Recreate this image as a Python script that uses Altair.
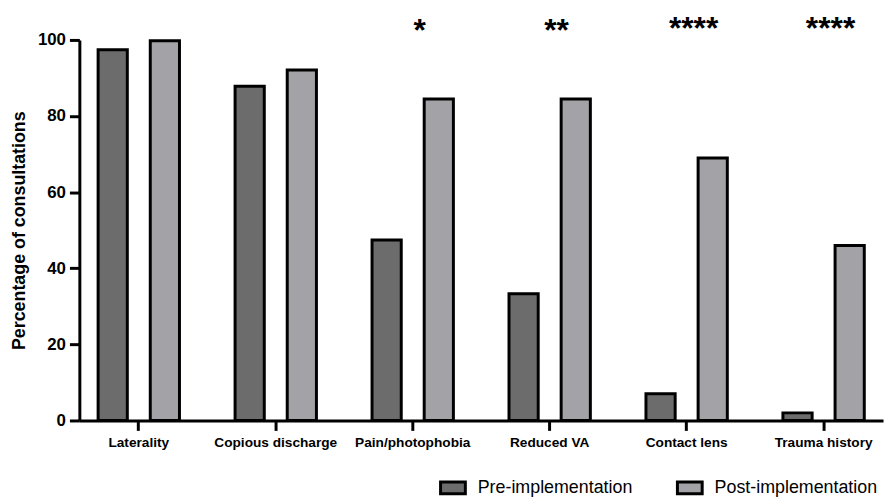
import altair as alt
import pandas as pd

categories = ["Laterality", "Copious discharge", "Pain/photophobia",
              "Reduced VA", "Contact lens", "Trauma history"]
groups = ["Pre-implementation", "Post-implementation"]
pre_values = [97.4, 87.8, 47.4, 33.3, 7.0, 2.0]
post_values = [99.8, 92.1, 84.5, 84.5, 69.0, 46.0]
sig_categories = ["Pain/photophobia", "Reduced VA", "Contact lens", "Trauma history"]
sig_labels = ["*", "**", "****", "****"]
sig_y = [99.6, 99.6, 100.2, 100.2]
y_ticks = [0, 20, 40, 60, 80, 100]
group_colors = ["#6c6c6c", "#a3a2a6"]

rows = []
for c, a, b in zip(categories, pre_values, post_values):
    rows.append({"category": c, "group": groups[0], "value": a})
    rows.append({"category": c, "group": groups[1], "value": b})
df = pd.DataFrame(rows)
sig_df = pd.DataFrame({"category": sig_categories, "label": sig_labels, "y": sig_y})

FONT = "Liberation Sans"

x_enc = alt.X(
    "category:N", sort=categories,
    scale=alt.Scale(paddingInner=0.406, paddingOuter=0.137),
    axis=alt.Axis(title=None, labelAngle=0, labelFont=FONT, labelFontWeight="bold",
                  labelFontSize=13.8, labelColor="black", domainColor="black",
                  domainWidth=3, tickColor="black", tickWidth=3, tickSize=10,
                  labelPadding=5, labelLimit=300),
)
y_scale = alt.Scale(domain=[0, 100], nice=False)

bars = alt.Chart(df).mark_bar(stroke="black", strokeWidth=3).encode(
    x=x_enc,
    xOffset=alt.XOffset("group:N", sort=groups, scale=alt.Scale(paddingInner=0.44)),
    y=alt.Y("value:Q", scale=y_scale,
            axis=alt.Axis(title="Percentage of consultations", values=y_ticks,
                          grid=False, labelFont=FONT, labelFontWeight="bold",
                          labelFontSize=17, labelColor="black", domainColor="black",
                          domainWidth=3, tickColor="black", tickWidth=3, tickSize=10,
                          labelPadding=4, titleFont=FONT, titleFontWeight="bold",
                          titleFontSize=18, titleColor="black", titlePadding=9)),
    color=alt.Color("group:N", sort=groups,
                    scale=alt.Scale(domain=groups, range=group_colors),
                    legend=alt.Legend(title=None, orient="none", direction="horizontal",
                                      legendX=363, legendY=438,
                                      symbolType="M-1,-0.48H1V0.48H-1Z", symbolSize=625,
                                      symbolStrokeColor="black", symbolStrokeWidth=3,
                                      labelFont=FONT, labelFontSize=18, labelColor="black",
                                      labelOffset=11, columnPadding=38, labelLimit=400)),
)

stars = alt.Chart(sig_df).mark_text(
    font=FONT, fontWeight="bold", fontSize=32, baseline="alphabetic", dx=7, color="black"
).encode(
    x=alt.X("category:N", sort=categories),
    y=alt.Y("y:Q", scale=y_scale),
    text="label:N",
)

chart = alt.layer(bars, stars).properties(
    width=811, height=384,
    autosize=alt.AutoSizeParams(type="none"),
    padding={"left": 72, "top": 30, "right": 5, "bottom": 75},
).configure_view(stroke=None)

chart.save("out.html", embed_options={"renderer": "svg", "actions": False})
